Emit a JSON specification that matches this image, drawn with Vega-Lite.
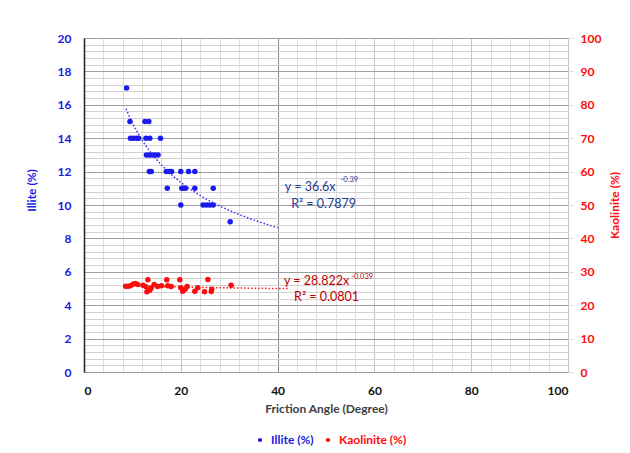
{
  "$schema": "https://vega.github.io/schema/vega-lite/v6.json",
  "autosize": "none",
  "width": 484,
  "height": 334,
  "padding": {"left": 84, "top": 38, "right": 62, "bottom": 81},
  "background": "white",
  "config": {
    "font": "Lato",
    "view": {"stroke": null},
    "axis": {"labelFont": "Lato", "titleFont": "Lato"}
  },
  "datasets": {
    "illite": [
      {"angle": 8.8, "illite": 17}, {"angle": 9.5, "illite": 15}, {"angle": 9.6, "illite": 14},
      {"angle": 10.2, "illite": 14}, {"angle": 10.8, "illite": 14}, {"angle": 11.3, "illite": 14},
      {"angle": 12.6, "illite": 15}, {"angle": 13.4, "illite": 15}, {"angle": 12.8, "illite": 14},
      {"angle": 13.6, "illite": 14}, {"angle": 15.8, "illite": 14}, {"angle": 12.9, "illite": 13},
      {"angle": 13.5, "illite": 13}, {"angle": 14.1, "illite": 13}, {"angle": 14.7, "illite": 13},
      {"angle": 15.3, "illite": 13}, {"angle": 13.5, "illite": 12}, {"angle": 13.9, "illite": 12},
      {"angle": 17.0, "illite": 12}, {"angle": 17.6, "illite": 12}, {"angle": 18.1, "illite": 12},
      {"angle": 20.0, "illite": 12}, {"angle": 21.6, "illite": 12}, {"angle": 22.9, "illite": 12},
      {"angle": 17.2, "illite": 11}, {"angle": 20.2, "illite": 11}, {"angle": 20.6, "illite": 11},
      {"angle": 21.0, "illite": 11}, {"angle": 22.9, "illite": 11}, {"angle": 26.7, "illite": 11},
      {"angle": 20.0, "illite": 10}, {"angle": 24.6, "illite": 10}, {"angle": 25.3, "illite": 10},
      {"angle": 26.0, "illite": 10}, {"angle": 26.7, "illite": 10}, {"angle": 30.2, "illite": 9}
    ],
    "kaolinite": [
      {"angle": 8.6, "kaolinite": 25.7}, {"angle": 9.1, "kaolinite": 25.7}, {"angle": 9.6, "kaolinite": 25.8},
      {"angle": 10.1, "kaolinite": 26.3}, {"angle": 10.6, "kaolinite": 26.5}, {"angle": 11.1, "kaolinite": 26.2},
      {"angle": 12.2, "kaolinite": 26.0}, {"angle": 12.8, "kaolinite": 25.5}, {"angle": 13.2, "kaolinite": 27.6},
      {"angle": 13.0, "kaolinite": 24.0}, {"angle": 13.6, "kaolinite": 24.5}, {"angle": 13.9, "kaolinite": 25.2},
      {"angle": 14.5, "kaolinite": 26.2}, {"angle": 15.2, "kaolinite": 25.6}, {"angle": 16.0, "kaolinite": 25.8},
      {"angle": 17.1, "kaolinite": 27.6}, {"angle": 17.3, "kaolinite": 25.8}, {"angle": 18.0, "kaolinite": 25.6},
      {"angle": 19.8, "kaolinite": 27.6}, {"angle": 20.0, "kaolinite": 25.2}, {"angle": 20.4, "kaolinite": 24.2},
      {"angle": 20.9, "kaolinite": 24.8}, {"angle": 21.3, "kaolinite": 25.6}, {"angle": 22.9, "kaolinite": 24.2},
      {"angle": 23.5, "kaolinite": 25.2}, {"angle": 24.9, "kaolinite": 24.0}, {"angle": 25.6, "kaolinite": 27.7},
      {"angle": 26.3, "kaolinite": 24.1}, {"angle": 26.4, "kaolinite": 24.8}, {"angle": 30.4, "kaolinite": 26.0}
    ],
    "illiteFit": [
      {"angle": 41.5, "illite": 11.08, "text": "y = 36.6x", "size": 12.5},
      {"angle": 53.0, "illite": 11.5, "text": "-0.39", "size": 7.5},
      {"angle": 42.8, "illite": 10.06, "text": "R² = 0.7879", "size": 12.5}
    ],
    "kaoliniteFit": [
      {"angle": 41.3, "kaolinite": 27.2, "text": "y = 28.822x", "size": 12.5},
      {"angle": 55.2, "kaolinite": 28.5, "text": "-0.039", "size": 7.5},
      {"angle": 43.4, "kaolinite": 22.5, "text": "R² = 0.0801", "size": 12.5}
    ]
  },
  "layer": [
    {
      "layer": [
        {
          "data": {"name": "illite"},
          "mark": {"type": "point", "opacity": 0},
          "encoding": {
            "x": {
              "field": "angle", "type": "quantitative",
              "scale": {"domain": [0, 100], "nice": false},
              "axis": {
                "orient": "bottom",
                "values": [0,4,8,12,16,20,24,28,32,36,40,44,48,52,56,60,64,68,72,76,80,84,88,92,96,100],
                "grid": true, "gridColor": "#dedede", "gridWidth": 1,
                "labels": false, "ticks": false, "domain": false, "title": null
              }
            },
            "y": {
              "field": "illite", "type": "quantitative",
              "scale": {"domain": [0, 20], "nice": false},
              "axis": {
                "orient": "left",
                "values": [0,0.4,0.8,1.2,1.6,2,2.4,2.8,3.2,3.6,4,4.4,4.8,5.2,5.6,6,6.4,6.8,7.2,7.6,8,8.4,8.8,9.2,9.6,10,10.4,10.8,11.2,11.6,12,12.4,12.8,13.2,13.6,14,14.4,14.8,15.2,15.6,16,16.4,16.8,17.2,17.6,18,18.4,18.8,19.2,19.6,20],
                "grid": true, "gridColor": "#d2d2d2", "gridWidth": 1,
                "labels": false, "ticks": false, "domain": false, "title": null
              }
            }
          }
        },
        {
          "data": {"name": "illite"},
          "mark": {"type": "circle", "size": 30, "opacity": 1},
          "encoding": {
            "x": {
              "field": "angle", "type": "quantitative",
              "scale": {"domain": [0, 100], "nice": false},
              "axis": {
                "orient": "bottom",
                "values": [0, 20, 40, 60, 80, 100],
                "grid": true,
                "gridColor": {"condition": {"test": "datum.value === 40", "value": "#8a8a8a"}, "value": "#c4c4c4"},
                "ticks": false, "domain": true, "domainColor": "#9a9a9a",
                "labelFontWeight": "bold", "labelFontSize": 12, "labelColor": "#111",
                "labelPadding": 13,
                "title": "Friction Angle (Degree)", "titleFontSize": 12, "titleFontWeight": "bold",
                "titleColor": "#404040", "titlePadding": 7
              }
            },
            "y": {
              "field": "illite", "type": "quantitative",
              "scale": {"domain": [0, 20], "nice": false},
              "axis": {
                "orient": "left",
                "values": [0, 2, 4, 6, 8, 10, 12, 14, 16, 18, 20],
                "grid": true, "gridColor": "#9e9e9e",
                "ticks": false, "domain": true, "domainColor": "#222", "domainWidth": 1.5,
                "labelFontWeight": "bold", "labelFontSize": 12, "labelColor": "#1a1ae0",
                "labelPadding": 13,
                "title": "Illite (%)", "titleFontSize": 12, "titleFontWeight": "bold",
                "titleColor": "#1a1ae0", "titleX": -46, "titleY": 152
              }
            },
            "color": {
              "datum": "Illite (%)", "type": "nominal",
              "scale": {"domain": ["Illite (%)", "Kaolinite (%)"], "range": ["#1a1aee", "#ff0a0a"]},
              "legend": {
                "orient": "none", "legendX": 170, "legendY": 396, "direction": "horizontal",
                "title": null, "symbolType": "circle", "symbolSize": 18, "symbolStrokeWidth": 0,
                "labelFontSize": 12, "labelFontWeight": "bold", "labelOffset": 5, "columnPadding": 8,
                "labelColor": {"expr": "datum.value === 'Illite (%)' ? '#1a1ae0' : '#ff0a0a'"}
              }
            }
          }
        },
        {
          "data": {"name": "illite"},
          "transform": [
            {"regression": "illite", "on": "angle", "method": "pow", "extent": [8.7, 40]}
          ],
          "mark": {"type": "line", "color": "#3030ee", "strokeDash": [1.5, 2], "strokeWidth": 1.5},
          "encoding": {
            "x": {"field": "angle", "type": "quantitative", "axis": null},
            "y": {"field": "illite", "type": "quantitative", "axis": null}
          }
        },
        {
          "data": {"name": "illiteFit"},
          "mark": {"type": "text", "align": "left", "baseline": "middle", "color": "#1f3a93", "font": "Lato"},
          "encoding": {
            "x": {"field": "angle", "type": "quantitative", "axis": null},
            "y": {"field": "illite", "type": "quantitative", "axis": null},
            "text": {"field": "text"},
            "size": {"field": "size", "type": "quantitative", "scale": null}
          }
        }
      ],
      "resolve": {"axis": {"x": "independent", "y": "independent"}}
    },
    {
      "layer": [
        {
          "data": {"name": "kaolinite"},
          "mark": {"type": "circle", "size": 30, "opacity": 1},
          "encoding": {
            "x": {"field": "angle", "type": "quantitative", "axis": null},
            "y": {
              "field": "kaolinite", "type": "quantitative",
              "scale": {"domain": [0, 100], "nice": false},
              "axis": {
                "orient": "right",
                "values": [0, 10, 20, 30, 40, 50, 60, 70, 80, 90, 100],
                "grid": false, "ticks": true, "tickSize": 5, "tickColor": "#dddddd",
                "domain": false,
                "labelFontWeight": "bold", "labelFontSize": 12, "labelColor": "#ff0a0a",
                "labelPadding": 7,
                "title": "Kaolinite (%)", "titleFontSize": 12, "titleFontWeight": "bold",
                "titleColor": "#ff0a0a", "titleAngle": 270, "titleX": 53, "titleY": 167
              }
            },
            "color": {"datum": "Kaolinite (%)", "type": "nominal"}
          }
        },
        {
          "data": {"name": "kaolinite"},
          "transform": [
            {"regression": "kaolinite", "on": "angle", "method": "pow", "extent": [8.5, 42.5]}
          ],
          "mark": {"type": "line", "color": "#ff1a1a", "strokeDash": [1.5, 2], "strokeWidth": 1.5},
          "encoding": {
            "x": {"field": "angle", "type": "quantitative", "axis": null},
            "y": {"field": "kaolinite", "type": "quantitative", "axis": null}
          }
        },
        {
          "data": {"name": "kaoliniteFit"},
          "mark": {"type": "text", "align": "left", "baseline": "middle", "color": "#c00000", "font": "Lato"},
          "encoding": {
            "x": {"field": "angle", "type": "quantitative", "axis": null},
            "y": {"field": "kaolinite", "type": "quantitative", "axis": null},
            "text": {"field": "text"},
            "size": {"field": "size", "type": "quantitative", "scale": null}
          }
        }
      ],
      "resolve": {"axis": {"x": "independent", "y": "independent"}}
    }
  ],
  "resolve": {"scale": {"y": "independent"}, "axis": {"y": "independent", "x": "independent"}}
}
